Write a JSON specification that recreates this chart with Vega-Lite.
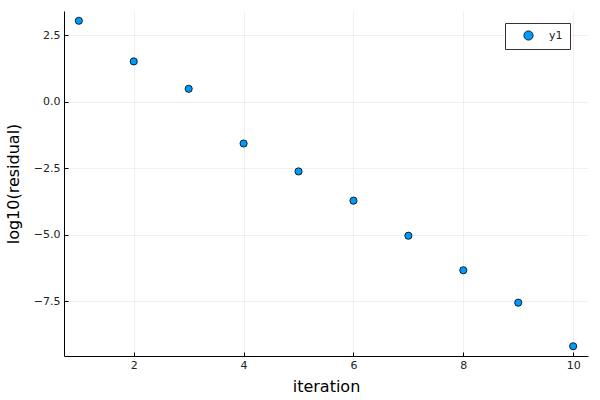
{
  "$schema": "https://vega.github.io/schema/vega-lite/v6.json",
  "width": 524,
  "height": 345,
  "autosize": "none",
  "padding": {"left": 64, "top": 11, "right": 12, "bottom": 44},
  "background": "white",
  "config": {
    "font": "DejaVu Sans",
    "view": {"stroke": null},
    "axis": {
      "domainColor": "#000000",
      "domainWidth": 1,
      "tickColor": "#000000",
      "tickSize": -4,
      "labelFont": "DejaVu Sans",
      "labelFontSize": 11,
      "labelColor": "#222222",
      "titleFont": "DejaVu Sans",
      "titleFontSize": 16,
      "titleFontWeight": "normal",
      "titleColor": "#000000",
      "gridColor": "#000000",
      "gridOpacity": 0.1,
      "gridWidth": 0.6
    }
  },
  "data": {
    "values": [
      {"iteration": 1, "value": 3.05, "series": "y1"},
      {"iteration": 2, "value": 1.52, "series": "y1"},
      {"iteration": 3, "value": 0.49, "series": "y1"},
      {"iteration": 4, "value": -1.57, "series": "y1"},
      {"iteration": 5, "value": -2.62, "series": "y1"},
      {"iteration": 6, "value": -3.72, "series": "y1"},
      {"iteration": 7, "value": -5.04, "series": "y1"},
      {"iteration": 8, "value": -6.34, "series": "y1"},
      {"iteration": 9, "value": -7.56, "series": "y1"},
      {"iteration": 10, "value": -9.2, "series": "y1"}
    ]
  },
  "mark": {"type": "point", "shape": "circle", "filled": true, "size": 52, "stroke": "#000000", "strokeWidth": 0.8, "opacity": 1},
  "encoding": {
    "x": {
      "field": "iteration",
      "type": "quantitative",
      "scale": {"domain": [0.73, 10.27], "nice": false, "zero": false},
      "axis": {"values": [2, 4, 6, 8, 10], "title": "iteration", "labelPadding": 7, "titlePadding": 8}
    },
    "y": {
      "field": "value",
      "type": "quantitative",
      "scale": {"domain": [-9.5675, 3.4175], "nice": false, "zero": false},
      "axis": {"values": [-7.5, -5, -2.5, 0, 2.5], "format": ".1f", "title": "log10(residual)", "labelPadding": 8, "titlePadding": 12}
    },
    "color": {
      "field": "series",
      "type": "nominal",
      "scale": {"range": ["#009AFA"]},
      "legend": {
        "title": null,
        "orient": "none",
        "legendX": 441,
        "legendY": 12,
        "strokeColor": "#333333",
        "fillColor": "white",
        "padding": 7,
        "symbolOffset": 11,
        "symbolSize": 85,
        "symbolStrokeColor": "#000000",
        "symbolStrokeWidth": 0.8,
        "labelOffset": 15,
        "labelFontSize": 11,
        "labelFont": "DejaVu Sans",
        "labelColor": "#222222"
      }
    }
  }
}
